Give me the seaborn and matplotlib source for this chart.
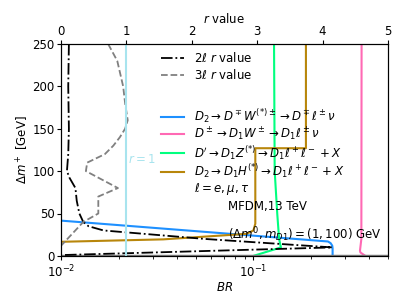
import matplotlib
matplotlib.use('Agg')
import matplotlib.pyplot as plt
import seaborn as sns
from matplotlib.lines import Line2D

plt.rcParams['font.size'] = 8.5
plt.rcParams['mathtext.fontset'] = 'dejavusans'
plt.rcParams['xtick.major.pad'] = 2.5
plt.rcParams['ytick.major.pad'] = 1.5
plt.rcParams['xtick.major.size'] = 3
plt.rcParams['ytick.major.size'] = 3
plt.rcParams['xtick.minor.size'] = 2
plt.rcParams['axes.labelpad'] = 0.5

# r values (top axis) for the 2l and 3l searches, listed from top to bottom.
dm_2l = [250, 200, 150, 120, 100, 92, 80, 65, 50, 40, 35, 30, 20, 10, 1]
r_2l = [0.12, 0.11, 0.12, 0.11, 0.09, 0.13, 0.22, 0.24, 0.28, 0.34, 0.42,
        0.65, 2.2, 4.15, 0.02]
dm_3l = [250, 230, 200, 180, 160, 150, 140, 130, 120, 110, 100, 80, 70, 50,
         40, 12]
r_3l = [0.72, 0.86, 0.95, 0.98, 1.02, 0.98, 0.90, 0.80, 0.67, 0.40, 0.38,
        0.87, 0.57, 0.57, 0.34, 0.0]

# Branching ratios (bottom axis).
dm_w2 = [42, 17, 15, 12, 9, 0]
br_w2 = [0.0095, 0.244, 0.252, 0.257, 0.258, 0.258]
dm_wpm = [0, 4, 6, 20, 250]
br_wpm = [0.382, 0.360, 0.358, 0.364, 0.365]
dm_z = [0, 10, 20, 50, 100, 250]
br_z = [0.100, 0.139, 0.136, 0.133, 0.129, 0.128]
dm_h = [16.5, 19.5, 26, 30, 38, 127, 127, 250]
br_h = [0.0095, 0.034, 0.092, 0.100, 0.1023, 0.1023, 0.1875, 0.1875]

fig = plt.figure(figsize=(4.07, 3.05), dpi=100)
ax = fig.add_axes([0.150, 0.161, 0.803, 0.695])

sns.lineplot(x=br_w2, y=dm_w2, sort=False, estimator=None, ax=ax,
             color='dodgerblue', lw=1.5,
             label=r'$D_2\to D^\mp W^{(*)\pm}\to D^\mp\ell^\pm\nu$')
sns.lineplot(x=br_wpm, y=dm_wpm, sort=False, estimator=None, ax=ax,
             color='hotpink', lw=1.5,
             label=r'$D^\pm\to D_1W^\pm\to D_1\ell^\pm\nu$')
sns.lineplot(x=br_z, y=dm_z, sort=False, estimator=None, ax=ax,
             color='springgreen', lw=1.5,
             label=r"$D'\to D_1Z^{(*)}\to D_1\ell^+\ell^-+X$")
sns.lineplot(x=br_h, y=dm_h, sort=False, estimator=None, ax=ax,
             color='darkgoldenrod', lw=1.5,
             label=r'$D_2\to D_1H^{(*)}\to D_1\ell^+\ell^-+X$')
ax.axhline(0, color='gray', lw=2.5)
ax.set_xscale('log')
ax.set_xlim(0.01, 0.5)
ax.set_ylim(0, 250)
ax.set_yticks([0, 50, 100, 150, 200, 250])
ax.set_xlabel('$BR$')
ax.set_ylabel(r'$\Delta m^+$ [GeV]', labelpad=1.0)
handles, labels = ax.get_legend_handles_labels()
handles.append(Line2D([], [], color='none'))
labels.append(r'$\ell=e,\mu,\tau$')
ax.legend(handles, labels, loc='upper left', bbox_to_anchor=(0.29, 0.725),
          frameon=False, borderaxespad=0, labelspacing=0.05)
ax.text(0.51, 0.215, 'MFDM,13 TeV', transform=ax.transAxes)
ax.text(0.51, 0.08, r'$(\Delta m^0, m_{D1})=(1,100)$ GeV',
        transform=ax.transAxes)

ax2 = ax.twiny()
sns.lineplot(x=r_2l, y=dm_2l, sort=False, estimator=None, ax=ax2,
             color='black', ls='-.', lw=1.3, label=r'$2\ell$ $r$ value')
sns.lineplot(x=r_3l, y=dm_3l, sort=False, estimator=None, ax=ax2,
             color='gray', ls='--', lw=1.3, label=r'$3\ell$ $r$ value')
ax2.axvline(1, color='#a8e4ee', lw=1.5)
ax2.text(1.02, 110, '$r=1$', color='#a8e4ee')
ax2.set_xlim(0, 5)
ax2.set_ylim(0, 250)
ax2.tick_params(axis='x', pad=1.5)
ax2.set_xlabel('$r$ value', labelpad=1.0)
ax2.legend(loc='upper left', bbox_to_anchor=(0.29, 0.99), frameon=False,
           borderaxespad=0, labelspacing=0.25)

fig.savefig('out.png', dpi=100)
